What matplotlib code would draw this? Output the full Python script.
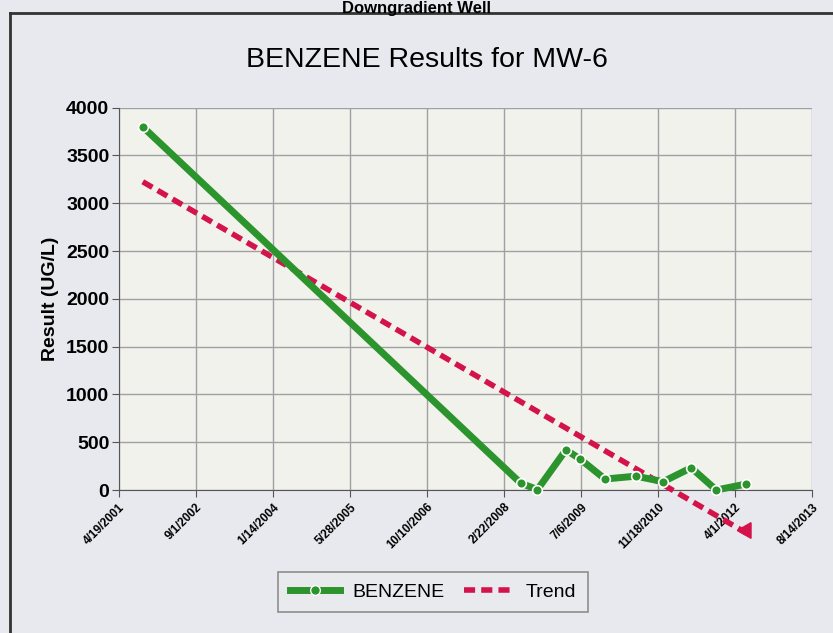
import datetime as dt
import matplotlib
matplotlib.use("Agg")
import matplotlib.pyplot as plt
from matplotlib.lines import Line2D

# sample dates and benzene results (ug/L)
sample_dates = ["2001-09-20", "2008-06-10", "2008-09-26", "2009-03-30", "2009-06-29",
                "2009-12-08", "2010-06-28", "2010-12-21", "2011-06-21", "2011-12-01",
                "2012-06-13"]
benzene = [3800, 70, 5, 420, 325, 115, 145, 87, 233, 0, 63]

# linear trend end points
trend_dates = ["2001-09-20", "2012-06-13"]
trend_vals = [3225, -450]

tick_dates = ["2001-04-19", "2002-09-01", "2004-01-14", "2005-05-28", "2006-10-10",
              "2008-02-22", "2009-07-06", "2010-11-18", "2012-04-01", "2013-08-14"]
y_ticks = [0, 500, 1000, 1500, 2000, 2500, 3000, 3500, 4000]

def to_d(s):
    return dt.datetime.strptime(s, "%Y-%m-%d")

x = [to_d(s) for s in sample_dates]
tx = [to_d(s) for s in trend_dates]
ticks = [to_d(s) for s in tick_dates]

plt.rcParams['font.family'] = ['Liberation Sans', 'DejaVu Sans']

fig = plt.figure(figsize=(8.33, 6.33), dpi=100)
fig.patch.set_facecolor("#e8e9ee")
ax = fig.add_axes([0.1429, 0.2259, 0.832, 0.604])
ax.set_facecolor("#f2f2ec")

green = "#2c942c"
red = "#d3134a"

ax.plot(x, benzene, color=green, lw=5, marker="o", ms=7,
        markerfacecolor=green, markeredgecolor="white", markeredgewidth=1.2,
        solid_capstyle="round", zorder=4, clip_on=False)
ax.plot(tx, trend_vals, color=red, lw=4, ls=(0, (2.0, 1.1)), zorder=3, clip_on=False)
ax.plot([tx[-1]], [trend_vals[-1] + 30], marker=(3, 0, -30), color=red, ms=13,
        clip_on=False, zorder=3)

ax.set_xlim(ticks[0], ticks[-1])
ax.set_ylim(0, 4000)
ax.set_xticks(ticks)
ax.set_xticklabels([f"{d.month}/{d.day}/{d.year}" for d in ticks],
                   rotation=45, ha="right", rotation_mode="anchor",
                   fontsize=8.5, fontweight="bold")
ax.set_yticks(y_ticks)
ax.set_yticklabels([str(v) for v in y_ticks], fontsize=14, fontweight="bold")
ax.set_ylabel("Result (UG/L)", fontsize=14, fontweight="bold", labelpad=5)

ax.grid(True, color="#a0a0a4", lw=1)
ax.set_axisbelow(True)
for s in ["top", "right"]:
    ax.spines[s].set_visible(False)
ax.spines["left"].set_color("#555555")
ax.spines["bottom"].set_color("#555555")
ax.tick_params(axis="both", length=5, color="#555555")
ax.tick_params(axis="x", pad=3)
ax.tick_params(axis="y", pad=2)

fig.text(427 / 833, 1 - 60 / 633, "BENZENE Results for MW-6", ha="center", va="center",
         fontsize=20.5)
fig.text(0.5, 1 - 1 / 633, "Downgradient Well", ha="center", va="top",
         fontsize=12, fontweight="bold")

# frame around chart
fig.add_artist(Line2D([10 / 833, 10 / 833], [1 - 13 / 633, 0.0], color="#333333", lw=2))
fig.add_artist(Line2D([10 / 833, 1.0], [1 - 13 / 633, 1 - 13 / 633], color="#333333", lw=2))

handles = [Line2D([], [], color=green, lw=5, marker="o", ms=7, markerfacecolor=green,
                  markeredgecolor="white"),
           Line2D([], [], color=red, lw=4, ls=(0, (2.0, 1.1)))]
leg = fig.legend(handles, ["BENZENE", "Trend"], loc="center",
                 bbox_to_anchor=(433 / 833, 1 - 592 / 633), ncol=2, fontsize=14,
                 frameon=True, fancybox=False, edgecolor="#777777",
                 facecolor="#eaebef", handlelength=2.6, columnspacing=1.0,
                 handletextpad=0.6, borderpad=0.6)
leg.get_frame().set_linewidth(1.2)

fig.savefig("out.png", dpi=100, facecolor=fig.get_facecolor())
